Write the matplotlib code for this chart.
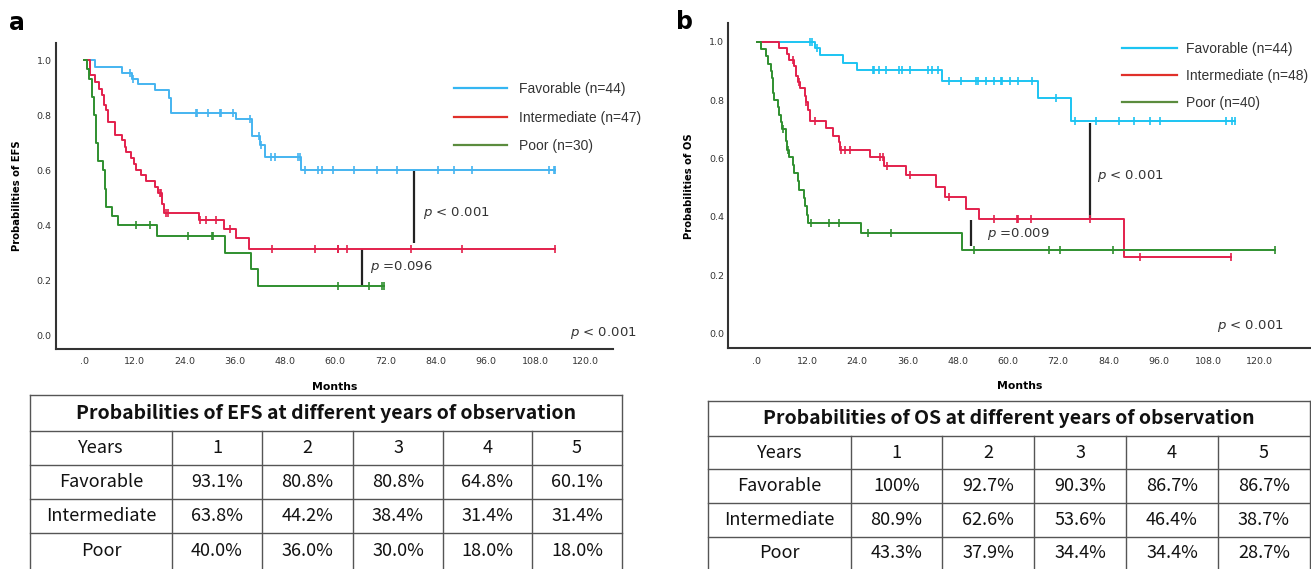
import numpy as np
import matplotlib.pyplot as plt
from matplotlib.lines import Line2D

plt.rcParams['font.family'] = ['DejaVu Sans']
plt.rcParams['mathtext.fontset'] = 'dejavusans'

# ---------------- EFS (panel a) ----------------
efs_fav_t = [0, 2.5, 9.0, 11.4, 12.8, 16.8, 20.3, 20.8, 36.3, 40.0, 42.1, 43.1, 51.9]
efs_fav_s = [1.0, 0.977, 0.955, 0.933, 0.915, 0.891, 0.862, 0.808, 0.785, 0.724, 0.691, 0.648, 0.601]
efs_fav_cens = [10.8, 11.6, 26.8, 27.0, 29.5, 32.5, 32.8, 35.5, 39.7, 41.9, 42.3, 44.7, 45.5,
                51.2, 51.5, 52.8, 56.0, 56.8, 59.4, 64.5, 70.1, 74.7, 84.5, 88.5, 92.7,
                111.2, 112.3, 112.6]

efs_int_t = [0, 1.4, 2.6, 3.4, 4.2, 4.6, 5.2, 5.7, 7.3, 8.9, 9.6, 10.0, 11.2, 11.8, 12.4,
             13.5, 14.8, 17.0, 17.6, 18.6, 19.1, 27.5, 33.3, 36.3, 39.4]
efs_int_s = [1.0, 0.945, 0.921, 0.897, 0.873, 0.836, 0.818, 0.776, 0.727, 0.709, 0.685, 0.667,
             0.643, 0.624, 0.602, 0.582, 0.561, 0.539, 0.518, 0.479, 0.446, 0.421, 0.388,
             0.354, 0.314]
efs_int_cens = [18.0, 18.3, 19.6, 19.9, 27.7, 29.1, 31.5, 34.9, 45.0, 55.2, 60.6, 60.8, 62.9,
                78.2, 90.3, 112.6]

efs_poor_t = [0, 0.6, 1.0, 1.8, 2.2, 2.8, 3.2, 4.4, 4.9, 5.2, 6.5, 8.0, 17.4, 33.7, 39.9, 41.5]
efs_poor_s = [1.0, 0.967, 0.933, 0.867, 0.800, 0.700, 0.633, 0.600, 0.533, 0.467, 0.433,
              0.400, 0.360, 0.300, 0.240, 0.180]
efs_poor_cens = [12.4, 15.8, 24.7, 30.5, 30.7, 60.8, 68.0, 71.2, 71.8]

# ---------------- OS (panel b) ----------------
os_fav_t = [0, 14.0, 15.0, 20.6, 24.0, 44.2, 67.2, 75.0]
os_fav_s = [1.0, 0.977, 0.954, 0.927, 0.903, 0.867, 0.807, 0.730]
os_fav_cens = [12.8, 13.2, 14.3, 27.7, 28.0, 29.3, 30.9, 33.9, 34.8, 36.7, 40.9, 41.9, 43.4,
               45.9, 48.9, 52.4, 52.9, 54.8, 56.7, 58.4, 58.7, 60.4, 62.4, 65.7, 71.4, 76.0,
               81.1, 86.5, 90.1, 93.9, 96.3, 112.2, 113.6, 114.2]

os_int_t = [0, 5.4, 7.2, 7.6, 9.0, 9.4, 9.8, 10.4, 11.6, 11.7, 12.2, 12.8, 16.6, 18.2, 19.6,
            19.9, 27.0, 30.5, 35.7, 42.9, 45.0, 50.1, 53.0, 87.7]
os_int_s = [1.0, 0.979, 0.958, 0.938, 0.917, 0.881, 0.861, 0.841, 0.813, 0.792, 0.767, 0.727,
            0.704, 0.678, 0.656, 0.630, 0.604, 0.575, 0.542, 0.502, 0.469, 0.428, 0.393, 0.262]
os_int_cens = [8.6, 10.0, 11.8, 14.0, 20.2, 21.0, 22.2, 29.5, 30.1, 31.2, 36.7, 45.9, 56.7,
               62.2, 62.4, 65.6, 79.5, 91.5, 113.2]

os_poor_t = [0, 1.0, 2.2, 2.6, 3.4, 3.6, 3.8, 4.0, 4.2, 5.0, 5.4, 5.8, 6.0, 6.9, 7.2, 7.8,
             8.6, 9.0, 9.8, 10.2, 11.2, 11.6, 12.0, 12.2, 25.0, 49.1]
os_poor_s = [1.0, 0.975, 0.950, 0.925, 0.900, 0.875, 0.850, 0.825, 0.800, 0.775, 0.750,
             0.725, 0.700, 0.659, 0.630, 0.604, 0.577, 0.550, 0.522, 0.493, 0.466, 0.437,
             0.408, 0.379, 0.345, 0.287]
os_poor_cens = [6.2, 7.4, 13.0, 17.3, 19.7, 26.5, 32.1, 51.9, 69.8, 72.4, 85.1, 123.8]

# ---------------- tables ----------------
years = ['1', '2', '3', '4', '5']
groups = ['Favorable', 'Intermediate', 'Poor']
efs_table = [['93.1%', '80.8%', '80.8%', '64.8%', '60.1%'],
             ['63.8%', '44.2%', '38.4%', '31.4%', '31.4%'],
             ['40.0%', '36.0%', '30.0%', '18.0%', '18.0%']]
os_table = [['100%', '92.7%', '90.3%', '86.7%', '86.7%'],
            ['80.9%', '62.6%', '53.6%', '46.4%', '38.7%'],
            ['43.3%', '37.9%', '34.4%', '34.4%', '28.7%']]

efs_labels = ['Favorable (n=44)', 'Intermediate (n=47)', 'Poor (n=30)']
os_labels = ['Favorable (n=44)', 'Intermediate (n=48)', 'Poor (n=40)']

RED = '#e3204c'
GREEN = '#2f8f2f'
LEG_COLS = ['#35b6f2', '#e0302a', '#5b8c3e']
LEG_FONT = {'family': 'Liberation Sans', 'size': 10}

fig = plt.figure(figsize=(13.11, 5.69), dpi=100)


def km(ax, t, s, cens, end, color):
    t = np.asarray(t)
    s = np.asarray(s)
    xs = np.append(t, end)
    ys = np.append(s, s[-1])
    ax.step(xs, ys, where='post', color=color, lw=1.4, zorder=3)
    cens = np.asarray(cens)
    cy = s[np.searchsorted(t, cens, side='right') - 1]
    ax.plot(cens, cy, ls='none', marker='|', ms=6, mew=1.2, color=color, zorder=4)


def style(ax, xmax, ylab):
    ax.set_xlim(-6.8, xmax)
    ax.set_ylim(-0.05, 1.063)
    for sp in ['top', 'right']:
        ax.spines[sp].set_visible(False)
    for sp in ['left', 'bottom']:
        ax.spines[sp].set_linewidth(1.5)
        ax.spines[sp].set_color('#333333')
    xt = np.arange(0, 121, 12)
    ax.set_xticks(xt)
    ax.set_xticklabels(['.0' if v == 0 else f'{v:.1f}' for v in xt])
    ax.set_yticks([0, 0.2, 0.4, 0.6, 0.8, 1.0])
    ax.set_yticklabels(['0.0', '0.2', '0.4', '0.6', '0.8', '1.0'])
    ax.tick_params(length=0, labelsize=6.8, colors='#333333', pad=6)
    ax.tick_params(axis='y', pad=3)
    ax.set_xlabel('Months', fontsize=7.8, fontweight='bold', labelpad=11)
    ax.set_ylabel(ylab, fontsize=7.2, fontweight='bold', labelpad=11)


# ---- panel a ----
axa = fig.add_axes([0.0427, 0.3866, 0.4249, 0.5378])
km(axa, efs_fav_t, efs_fav_s, efs_fav_cens, 112.6, '#45b4f0')
km(axa, efs_int_t, efs_int_s, efs_int_cens, 112.6, RED)
km(axa, efs_poor_t, efs_poor_s, efs_poor_cens, 71.8, GREEN)
style(axa, 126.5, 'Probabilities of EFS')
axa.vlines(78.9, 0.335, 0.596, color='#222222', lw=1.6)
axa.vlines(66.4, 0.184, 0.315, color='#222222', lw=1.6)
axa.text(81.0, 0.444, r'$p$ < 0.001', fontsize=9.5, color='#333333', va='center')
axa.text(68.4, 0.247, r'$p$ =0.096', fontsize=9.5, color='#333333', va='center')
axa.text(116.2, 0.01, r'$p$ < 0.001', fontsize=9.5, color='#333333', va='center')
ha = [Line2D([], [], color=c, lw=1.6) for c in LEG_COLS]
axa.legend(ha, efs_labels, loc='upper left', bbox_to_anchor=(447 / 1311, 1 - 75 / 569),
           bbox_transform=fig.transFigure, frameon=False, prop=LEG_FONT, borderpad=0,
           handlelength=3.8, handletextpad=0.85, labelspacing=1.05, labelcolor='#333333')

# ---- panel b ----
axb = fig.add_axes([0.5555, 0.3879, 0.4445, 0.5711])
km(axb, os_fav_t, os_fav_s, os_fav_cens, 114.2, '#1cc4f2')
km(axb, os_int_t, os_int_s, os_int_cens, 113.2, RED)
km(axb, os_poor_t, os_poor_s, os_poor_cens, 123.8, GREEN)
style(axb, 132.4, 'Probabilities of OS')
axb.vlines(79.5, 0.396, 0.722, color='#222222', lw=1.6)
axb.vlines(51.1, 0.299, 0.39, color='#222222', lw=1.6)
axb.text(81.4, 0.541, r'$p$ < 0.001', fontsize=9.5, color='#333333', va='center')
axb.text(54.9, 0.342, r'$p$ =0.009', fontsize=9.5, color='#333333', va='center')
axb.text(109.9, 0.025, r'$p$ < 0.001', fontsize=9.5, color='#333333', va='center')
hb = [Line2D([], [], color=c, lw=1.6) for c in ['#1cc4f2', LEG_COLS[1], LEG_COLS[2]]]
axb.legend(hb, os_labels, loc='upper left', bbox_to_anchor=(1115 / 1311, 1 - 35 / 569),
           bbox_transform=fig.transFigure, frameon=False, prop=LEG_FONT, borderpad=0,
           handlelength=3.95, handletextpad=0.65, labelspacing=0.94, labelcolor='#333333')

fig.text(17 / 1311, 1 - 23 / 569, 'a', fontsize=17, fontweight='bold', ha='center', va='center')
fig.text(685 / 1311, 1 - 22 / 569, 'b', fontsize=17, fontweight='bold', ha='center', va='center')

# ---- tables (drawn in pixel coordinates) ----
tab = fig.add_axes([0, 0, 1, 1])
tab.set_xlim(0, 1311)
tab.set_ylim(569, 0)
tab.axis('off')
CJK = ['Noto Sans CJK SC', 'DejaVu Sans']


def draw_table(cols, rows, title, vals):
    lc = '#555555'
    tab.plot([cols[0], cols[-1]], [rows[0], rows[0]], color=lc, lw=1)
    for r in rows[1:-1]:
        tab.plot([cols[0], cols[-1]], [r, r], color=lc, lw=1)
    tab.plot([cols[0], cols[0]], [rows[0], rows[-1]], color=lc, lw=1)
    tab.plot([cols[-1], cols[-1]], [rows[0], rows[-1]], color=lc, lw=1)
    for c in cols[1:-1]:
        tab.plot([c, c], [rows[1], rows[-1]], color=lc, lw=1)
    tab.text((cols[0] + cols[-1]) / 2, (rows[0] + rows[1]) / 2, title, family=CJK,
             fontsize=14, fontweight='bold', ha='center', va='center', color='#111111')
    header = ['Years'] + years
    body = [header] + [[g] + v for g, v in zip(groups, vals)]
    for i, line in enumerate(body):
        yc = (rows[i + 1] + rows[i + 2]) / 2
        for j, txt in enumerate(line):
            xc = (cols[j] + cols[j + 1]) / 2
            tab.text(xc, yc, txt, family=CJK, fontsize=13, ha='center', va='center',
                     color='#111111')


draw_table([30, 172, 262, 353, 443, 532, 622], [395, 431, 465, 499, 533, 569],
           'Probabilities of EFS at different years of observation', efs_table)
draw_table([708, 851, 942, 1034, 1126, 1218, 1310], [401, 436, 469, 503, 537, 569],
           'Probabilities of OS at different years of observation', os_table)

fig.savefig('out.png', dpi=100)
